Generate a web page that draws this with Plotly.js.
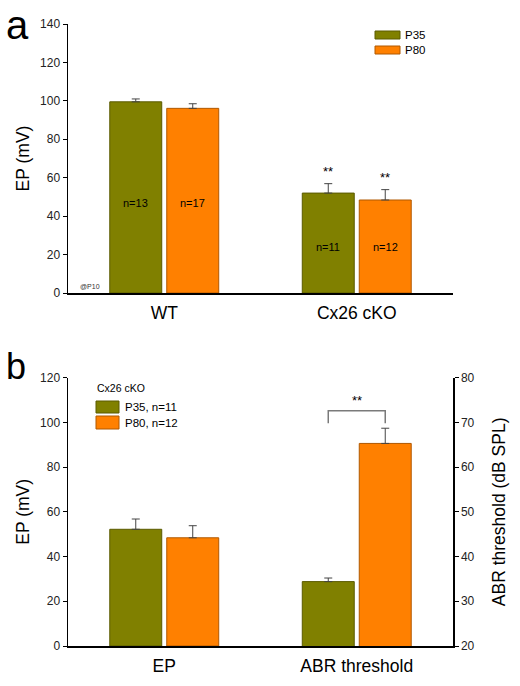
<!DOCTYPE html>
<html>
<head>
<meta charset="utf-8">
<script src="https://cdn.plot.ly/plotly-3.0.1.min.js"></script>
<style>html,body{margin:0;padding:0;background:#fff;}#chart{width:520px;height:686px;}</style>
</head>
<body>
<div id="chart"></div>
<script>
// ---------- data ----------
const groupsA = ["WT", "Cx26 cKO"];
const epP35 = [99.5, 52.0];
const epP35Err = [1.5, 4.9];
const epP80 = [96.1, 48.4];
const epP80Err = [2.4, 5.4];
const nP35 = ["n=13", "n=11"];
const nP80 = ["n=17", "n=12"];
const nLabelY = [47, 24];
const starsA = ["", "**"];

const groupsB = ["EP", "ABR threshold"];
const bEpP35 = [52.2], bEpP35Err = [4.6];
const bEpP80 = [48.4], bEpP80Err = [5.4];
const abrP35 = [34.4], abrP35Err = [0.8];
const abrP80 = [65.3], abrP80Err = [3.4];
const bracketY = [69.8, 72.6, 72.6, 69.8];
const bracketStar = "**";
const bracketStarY = 74.9;

const seriesNames = ["P35", "P80"];
const legendB = ["P35, n=11", "P80, n=12"];
const legendBTitle = "Cx26 cKO";

// ---------- style ----------
const OLIVE = "#808000", OLIVE_EDGE = "#5a5a00";
const ORANGE = "#ff8000", ORANGE_EDGE = "#b05800";
const ERR = "#444444";
const FONT = "Liberation Sans, Arial, sans-serif";
const BARGAP = 0.408, GROUPGAP = 0.088;
const OFF = (1 - BARGAP) / 4; // centre offset of each bar inside its group

const W = 520, H = 686, ML = 68, MR = 67, MT = 24, MB = 40;
const PW = W - ML - MR, PH = H - MT - MB;
const px = x => (x - ML) / PW;
const py = y => (H - MB - y) / PH;

function bar(name, x, y, err, color, edge, xa, ya, og) {
  return {
    type: "bar", name: name, x: x, y: y, xaxis: xa, yaxis: ya, offsetgroup: og,
    marker: {color: color, line: {color: edge, width: 1}},
    error_y: {type: "data", array: err, arrayminus: err.map(() => 0), symmetric: false,
              color: ERR, thickness: 1, width: 4},
    showlegend: false, hoverinfo: "skip"
  };
}
const idxA = groupsA.map((_, i) => i);
const traces = [
  bar(seriesNames[0], idxA, epP35, epP35Err, OLIVE, OLIVE_EDGE, "x", "y", "g1"),
  bar(seriesNames[1], idxA, epP80, epP80Err, ORANGE, ORANGE_EDGE, "x", "y", "g2"),
  bar(seriesNames[0], [0], bEpP35, bEpP35Err, OLIVE, OLIVE_EDGE, "x2", "y2", "g1"),
  bar(seriesNames[1], [0], bEpP80, bEpP80Err, ORANGE, ORANGE_EDGE, "x2", "y2", "g2"),
  bar(seriesNames[0], [1], abrP35, abrP35Err, OLIVE, OLIVE_EDGE, "x2", "y3", "g1"),
  bar(seriesNames[1], [1], abrP80, abrP80Err, ORANGE, ORANGE_EDGE, "x2", "y3", "g2"),
  {type: "scatter", mode: "lines", x: [1 - OFF, 1 - OFF, 1 + OFF, 1 + OFF], y: bracketY,
   xaxis: "x2", yaxis: "y3", line: {color: "#7a7a7a", width: 1.5}, showlegend: false, hoverinfo: "skip"}
];

const annotations = [];
const tf = (s, c) => ({family: FONT, size: s, color: c || "#000"});
const note = (x, y, text, font, extra) => Object.assign({xref: "paper", yref: "paper", x: x, y: y, text: text,
  showarrow: false, font: font, xanchor: "left", yanchor: "middle"}, extra || {});
// n labels & stars panel a
idxA.forEach(i => {
  annotations.push({xref: "x", yref: "y", x: i - OFF, y: nLabelY[i], text: nP35[i], showarrow: false, font: tf(11), yanchor: "middle"});
  annotations.push({xref: "x", yref: "y", x: i + OFF, y: nLabelY[i], text: nP80[i], showarrow: false, font: tf(11), yanchor: "middle"});
  if (starsA[i]) {
    annotations.push({xref: "x", yref: "y", x: i - OFF, y: epP35[i] + epP35Err[i], yshift: 12, text: starsA[i], showarrow: false, font: tf(13)});
    annotations.push({xref: "x", yref: "y", x: i + OFF, y: epP80[i] + epP80Err[i], yshift: 12, text: starsA[i], showarrow: false, font: tf(13)});
  }
});
annotations.push({xref: "x2", yref: "y3", x: 1, y: bracketStarY, text: bracketStar, showarrow: false, font: tf(13)});
annotations.push(note(px(78), py(286), "@P10", tf(7, "#333")));
// panel letters
annotations.push(note(px(4), py(25), "a", tf(40)));
annotations.push(note(px(4), py(366), "b", tf(36)));

// custom legends
const shapes = [];
[[OLIVE, OLIVE_EDGE, 31, 39], [ORANGE, ORANGE_EDGE, 46, 54]].forEach((s, i) => {
  shapes.push({type: "rect", xref: "paper", yref: "paper", x0: px(375), x1: px(400), y0: py(s[3]), y1: py(s[2]),
               fillcolor: s[0], line: {color: s[1], width: 1}});
  annotations.push(note(px(403), py((s[2] + s[3]) / 2), seriesNames[i], tf(11.5)));
});
annotations.push(note(px(95), py(388), legendBTitle, tf(10.5)));
[[OLIVE, OLIVE_EDGE, 401, 413], [ORANGE, ORANGE_EDGE, 416, 429]].forEach((s, i) => {
  shapes.push({type: "rect", xref: "paper", yref: "paper", x0: px(96), x1: px(119), y0: py(s[3]), y1: py(s[2]),
               fillcolor: s[0], line: {color: s[1], width: 1}});
  annotations.push(note(px(123), py((s[2] + s[3]) / 2), legendB[i], tf(11.5)));
});

const yCommon = {ticks: "outside", ticklen: 4, tickwidth: 1, tickcolor: "#000", showline: true, linecolor: "#000", linewidth: 1.5,
                 showgrid: false, zeroline: false, tickfont: tf(12, "#222"), fixedrange: true};
const xCommon = {type: "linear", range: [-0.5, 1.5], tickvals: [0, 1], ticks: "", showline: true, linecolor: "#000", linewidth: 1.5,
                 showgrid: false, zeroline: false, tickfont: tf(17.5), fixedrange: true, ticklabelstandoff: 3};
const dA = py(293), dB = py(377.7);
const layout = {
  width: W, height: H, margin: {l: ML, r: MR, t: MT, b: MB},
  paper_bgcolor: "#fff", plot_bgcolor: "#fff", font: {family: FONT},
  barmode: "group", bargap: BARGAP, bargroupgap: GROUPGAP, showlegend: false,
  xaxis: Object.assign({}, xCommon, {domain: [0, 1], anchor: "y", ticktext: groupsA}),
  yaxis: Object.assign({}, yCommon, {domain: [dA, 1], anchor: "x", range: [0, 140], dtick: 20,
         title: {text: "EP (mV)", font: tf(17.5), standoff: 6}}),
  xaxis2: Object.assign({}, xCommon, {domain: [0, 1], anchor: "y2", ticktext: groupsB}),
  yaxis2: Object.assign({}, yCommon, {domain: [0, dB], anchor: "x2", range: [0, 120], dtick: 20,
          title: {text: "EP (mV)", font: tf(17.5), standoff: 6}}),
  yaxis3: Object.assign({}, yCommon, {overlaying: "y2", side: "right", anchor: "x2", range: [20, 80], dtick: 10,
          title: {text: "ABR threshold (dB SPL)", font: tf(17.5), standoff: 19}}),
  annotations: annotations, shapes: shapes
};
Plotly.newPlot("chart", traces, layout, {staticPlot: true, displayModeBar: false});
</script>
</body>
</html>
